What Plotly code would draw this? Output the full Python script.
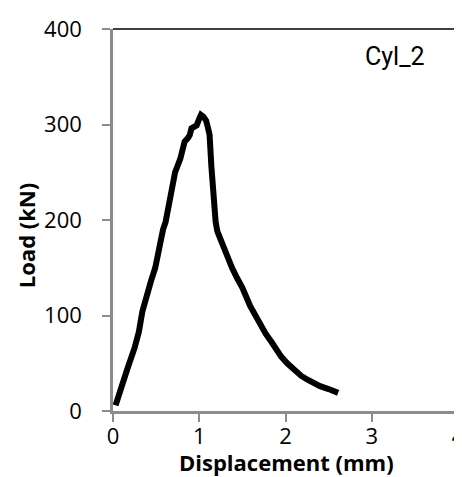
import plotly.graph_objects as go

displacement = [0.03, 0.09, 0.17, 0.25, 0.30, 0.34, 0.40, 0.44, 0.49, 0.53, 0.58, 0.61, 0.64,
                0.70, 0.72, 0.78, 0.83, 0.87, 0.89, 0.91, 0.97, 1.00, 1.02, 1.05, 1.08, 1.10,
                1.12, 1.14, 1.16, 1.17, 1.19, 1.21, 1.27, 1.33, 1.38, 1.44, 1.50, 1.59, 1.65,
                1.70, 1.77, 1.84, 1.90, 1.95, 2.02, 2.10, 2.18, 2.25, 2.33, 2.40, 2.50, 2.61]
load = [6, 24, 45, 66, 83, 104, 125, 136, 150, 170, 190, 198, 212,
        237, 250, 264, 282, 286, 289, 296, 299, 306, 310, 308, 304, 297,
        289, 257, 230, 209, 198, 188, 174, 160, 150, 139, 129, 110, 100,
        90, 81, 72, 63, 57, 50, 43, 37, 33, 29, 26, 23, 19]

x_ticks = [0, 1, 2, 3, 4]
y_ticks = [0, 100, 200, 300, 400]

W, H = 462, 477
L, R, T, B = 105, 5, 20, 74
pw, ph = W - L - R, H - T - B

tick_font = dict(family="Open Sans, Noto Sans, sans-serif", size=22, color="#000")
title_font = dict(family="Open Sans, Noto Sans, sans-serif", size=22, color="#000")

fig = go.Figure()
fig.add_trace(go.Scatter(x=displacement, y=load, mode="lines",
                         line=dict(color="#000", width=6), showlegend=False))

fig.update_layout(
    width=W, height=H,
    margin=dict(l=L, r=R, t=T, b=B),
    paper_bgcolor="white", plot_bgcolor="white",
    xaxis=dict(range=[0, 4], tickvals=x_ticks, ticktext=[str(v) for v in x_ticks],
               showgrid=False, zeroline=False, showline=True, linecolor="#8c8c8c",
               linewidth=2.5, ticks="outside", ticklen=8, tickwidth=2, tickcolor="#8c8c8c",
               tickfont=tick_font, ticklabelstandoff=-4, ticklabeloverflow="allow"),
    yaxis=dict(range=[0, 400], tickvals=y_ticks, ticktext=[str(v) for v in y_ticks],
               showgrid=False, zeroline=False, showline=True, linecolor="#8c8c8c",
               linewidth=2.5, ticks="outside", ticklen=8, tickwidth=2, tickcolor="#8c8c8c",
               tickfont=tick_font, ticklabelstandoff=16, ticklabeloverflow="allow"),
    shapes=[
        dict(type="line", xref="paper", yref="paper", x0=0, x1=1, y0=1, y1=1,
             line=dict(color="#000", width=1.5), layer="below"),
        dict(type="line", xref="paper", yref="paper", x0=1, x1=1, y0=0, y1=1,
             line=dict(color="#000", width=1.5), layer="below"),
    ],
    annotations=[
        dict(text="<b>Displacement (mm)</b>", xref="paper", yref="paper",
             x=(282.5 - L) / pw, y=-(454 - (T + ph)) / ph, showarrow=False,
             xanchor="center", yanchor="middle", font=title_font),
        dict(text="<b>Load (kN)</b>", xref="paper", yref="paper",
             x=(17 - L) / pw, y=((T + ph) - 227) / ph, showarrow=False, textangle=-90,
             xanchor="center", yanchor="middle", font=title_font),
        dict(text="Cyl_2", xref="paper", yref="paper",
             x=(392.5 - L) / pw, y=((T + ph) - 48) / ph, showarrow=False,
             xanchor="center", yanchor="middle",
             font=dict(family="Liberation Sans Narrow, Roboto, sans-serif", size=25, color="#000")),
    ],
)

fig.write_html("out.html")
